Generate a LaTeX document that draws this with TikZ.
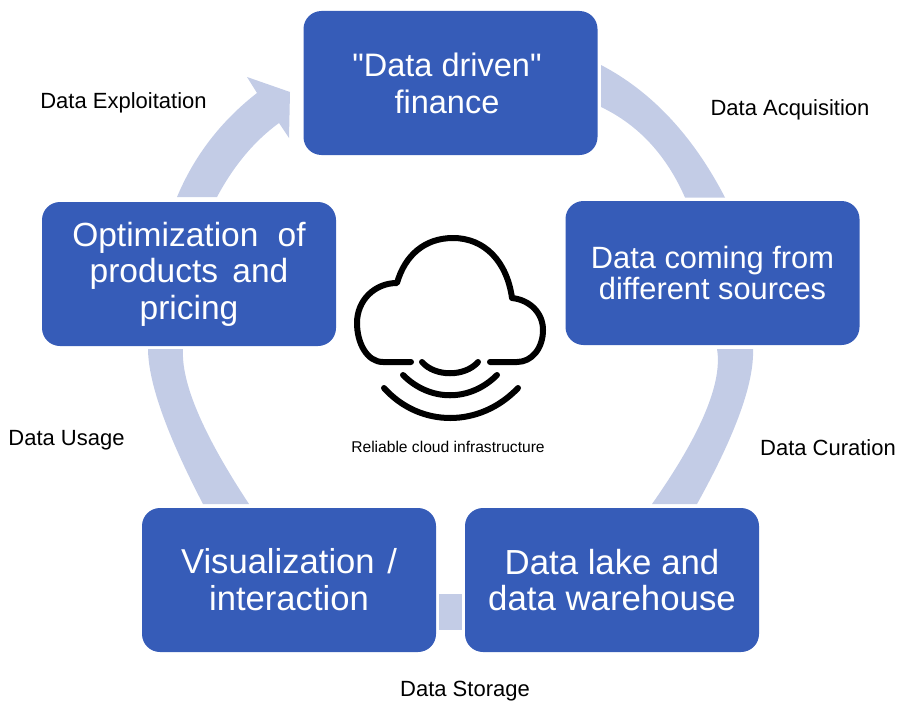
\documentclass[tikz,border=0pt]{standalone}
\usepackage{fontspec}
\setmainfont{Liberation Sans}
\definecolor{stageblue}{RGB}{54, 92, 184}
\definecolor{bandblue}{RGB}{195, 204, 230}
\tikzset{
  stagebox/.style={fill=stageblue, text=white, rounded corners=18pt, minimum width=294pt, minimum height=144pt,
    align=center, inner sep=0pt},
  flowband/.style={fill=bandblue},
  phaselabel/.style={inner sep=0pt, font=\fontsize{22}{26}\selectfont},
  cloudline/.style={draw=black, line width=6pt, line cap=round, line join=round}
}

\begin{document}
\begin{tikzpicture}[x=1pt, y=-1pt]
    \useasboundingbox (0,0) rectangle (901,701);

    % Stages
    \node[stagebox, font=\fontsize{32.5}{37}\selectfont] (finance) at (450.5,83)
        {\raisebox{-3.5pt}{\textquotedbl Data driven\textquotedbl}\hspace*{7pt}\\\raisebox{-3.5pt}{finance}\hspace*{7pt}};
    \node[stagebox, font=\fontsize{30.8}{31.5}\selectfont] (sources) at (712.5,273) {Data coming from\\different sources};
    \node[stagebox, font=\fontsize{34.8}{36.5}\selectfont] (lake) at (612,580) {Data lake and\\data warehouse};
    \node[stagebox, font=\fontsize{34.6}{37}\selectfont] (visual) at (289,580) {Visualization\hspace{3pt} /\\interaction};
    \node[stagebox, font=\fontsize{33.5}{36.5}\selectfont] (pricing) at (189,274) {Optimization\hspace{10pt} of\\products\hspace{5pt} and\\pricing};

    % Bands between stages
    \fill[flowband] (601,65) .. controls (651.7,91.5) and (693,135.7) .. (725,197.5)
        -- (685,197.5) .. controls (666.3,155) and (638.3,124.8) .. (601,107) -- cycle;
    \fill[flowband] (753,349) .. controls (754.3,382.7) and (735.7,434.3) .. (697,504)
        -- (652,504) .. controls (701,434.3) and (722.7,382.7) .. (717,349) -- cycle;
    \fill[flowband] (439,594) rectangle (462,630);
    \fill[flowband] (249,504) .. controls (203,434.3) and (181,382.7) .. (183,349)
        -- (148,349) .. controls (148.3,382.7) and (166.7,434.3) .. (203,504) -- cycle;

    % Band with arrow head
    \fill[flowband] (177,197) .. controls (194.3,155.7) and (221,121) .. (257,93)
        -- (247,77) -- (290,92) -- (289,138) -- (279,123)
        .. controls (254.3,141) and (233.7,165.7) .. (217,197) -- cycle;

    % Phases
    \node[phaselabel] (exploitation) at (123.5,103) {Data Exploitation};
    \node[phaselabel] (acquisition) at (790,110) {Data Acquisition};
    \node[phaselabel] (curation) at (828,447.5) {Data Curation};
    \node[phaselabel] (usage) at (66.5,440) {Data Usage};
    \node[phaselabel] (storage) at (465,691) {Data Storage};

    % Cloud
    \draw[cloudline] (411,362) -- (383,362) .. controls (367,362) and (357,343) .. (357,323)
        .. controls (357,300) and (375,283) .. (397,283)
        .. controls (405,255) and (425,238) .. (453,238)
        .. controls (485,238) and (507,262) .. (512,298)
        .. controls (530,300) and (543,313) .. (543,330)
        .. controls (543,348) and (532,362) .. (517,362) -- (490,362);
    \draw[cloudline] (422,362) .. controls (435,377) and (465,377) .. (478,362);
    \draw[cloudline] (403,375) .. controls (430,402) and (470,402) .. (497,375);
    \draw[cloudline] (384,388) .. controls (420,428) and (480,428) .. (518,388);
    \node[inner sep=0pt, font=\fontsize{15.6}{19}\selectfont] (cloudlabel) at (448,447) {Reliable cloud infrastructure};
\end{tikzpicture}
\end{document}
